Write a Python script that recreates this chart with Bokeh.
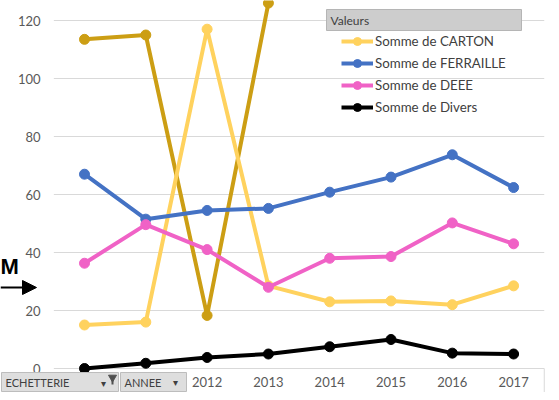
import math
from bokeh.plotting import figure
from bokeh.models import Range1d, Legend, LegendItem, Arrow, NormalHead
from bokeh.core.properties import value
from bokeh.embed import file_html
from bokeh.resources import INLINE

years = ["2010", "2011", "2012", "2013", "2014", "2015", "2016", "2017"]
carton = [15, 16, 117, 28.5, 23, 23.3, 22, 28.5]
ferraille = [67, 51.5, 54.5, 55.2, 60.8, 66, 73.7, 62.4]
deee = [36.3, 49.6, 41, 28, 38, 38.6, 50.2, 43]
divers = [0, 1.8, 3.8, 5, 7.5, 10, 5.3, 5]
autre = [113.5, 115, 18.3, 126, math.nan, math.nan, math.nan, math.nan]
yticks = [0, 20, 40, 60, 80, 100, 120]
hidden_labels = 2  # first two year labels are under the field buttons

FONT = "Lato"
GREY = "#595959"
W, H = 551, 392

# layout constants (pixels of the reference picture)
X0_PX, DX_PX = 84.0, 61.3      # centre of first category, category step
Y0_PX, DY_PX = 368.0, 2.9      # pixel of value 0, pixels per unit


def px2x(px):
    return (px - X0_PX) / DX_PX


def py2y(py):
    return (Y0_PX - py) / DY_PX


xi = list(range(len(years)))

p = figure(width=W, height=H, x_range=Range1d(px2x(0), px2x(W)),
           y_range=Range1d(py2y(H), py2y(0)),
           x_axis_type=None, y_axis_type=None,
           output_backend="svg", toolbar_location=None,
           min_border=0)
p.outline_line_color = None
p.grid.visible = False
p.background_fill_color = "white"
p.border_fill_color = "white"

# horizontal grid lines, spanning the category bands
p.segment(x0=[xi[0] - 0.5] * len(yticks), x1=[xi[-1] + 0.5] * len(yticks),
          y0=yticks, y1=yticks, line_color="#d9d9d9", line_width=1)
# right edge of the axis-field box
p.segment(x0=[xi[-1] + 0.5], x1=[xi[-1] + 0.5], y0=[0], y1=[py2y(H)],
          line_color="#d9d9d9", line_width=1)

# y tick labels
p.text(x=[px2x(40)] * len(yticks), y=yticks, text=[str(t) for t in yticks],
       text_align="right", text_baseline="middle", text_font=value(FONT),
       text_font_size="13px", text_color=GREY)
# x tick labels
p.text(x=xi[hidden_labels:], y=[py2y(381.5)] * (len(years) - hidden_labels),
       text=years[hidden_labels:], text_align="center", text_baseline="middle",
       text_font=value(FONT), text_font_size="13px", text_color=GREY)

series = [
    ("Somme de CARTON", carton, "#FFD25E"),
    ("Somme de FERRAILLE", ferraille, "#4472C4"),
    ("Somme de DEEE", deee, "#F062C6"),
    ("Somme de Divers", divers, "#000000"),
]

# gold series whose legend entry is not visible
p.line(xi, autre, line_color="#CC9E14", line_width=4)
p.scatter(xi, autre, size=10, fill_color="#CC9E14", line_color="#CC9E14")

items = []
for name, vals, col in series:
    l = p.line(xi, vals, line_color=col, line_width=4)
    s = p.scatter(xi, vals, size=10, fill_color=col, line_color=col)
    items.append(LegendItem(label=name, renderers=[l, s]))

# legend header "Valeurs"
p.quad(left=[px2x(326)], right=[px2x(521)], top=[py2y(9)], bottom=[py2y(30)],
       fill_color="#cdcdcd", line_color="#b5b5b5")
p.text(x=[px2x(330)], y=[py2y(19.5)], text=["Valeurs"], text_baseline="middle",
       text_font=value(FONT), text_font_size="12px", text_color="#404040")

legend = Legend(items=items, location=(341, 275), orientation="vertical",
                background_fill_alpha=0, border_line_color=None,
                padding=0, margin=0, spacing=2, label_standoff=2,
                glyph_width=32, glyph_height=20, label_height=20,
                label_text_font=FONT, label_text_font_size="13.3px", label_text_color="#404040")
p.add_layout(legend, "center")

# field buttons below the axis
p.quad(left=[px2x(1), px2x(120)], right=[px2x(118), px2x(186)],
       top=[py2y(372), py2y(372)], bottom=[py2y(391), py2y(391)],
       fill_color="#dedede", line_color="#bdbdbd")
p.text(x=[px2x(5), px2x(124)], y=[py2y(381.5)] * 2, text=["ECHETTERIE", "ANNEE"],
       text_baseline="middle", text_font=value(FONT), text_font_size="11px",
       text_color="#404040")
p.text(x=[px2x(103), px2x(175)], y=[py2y(383), py2y(381.5)], text=["▾", "▾"],
       text_align="center", text_baseline="middle", text_font=value("DejaVu Sans"),
       text_font_size="10px", text_color="#404040")
p.scatter(x=[px2x(112)], y=[py2y(377)], marker="inverted_triangle", size=8,
          fill_color="#505050", line_color="#505050")
p.segment(x0=[px2x(112)], x1=[px2x(112)], y0=[py2y(378)], y1=[py2y(384)],
          line_color="#505050", line_width=2)

# stray annotation on the left
p.text(x=[px2x(0)], y=[py2y(266)], text=["M"], text_align="left", text_baseline="middle",
       text_font=value("Liberation Sans"), text_font_style="bold", text_font_size="22px",
       text_color="black")
p.add_layout(Arrow(x_start=px2x(0), y_start=py2y(287), x_end=px2x(36), y_end=py2y(287),
                   line_width=2, line_color="black",
                   end=NormalHead(size=14, fill_color="black", line_color="black")))

open("out.html", "w").write(file_html(p, INLINE))
